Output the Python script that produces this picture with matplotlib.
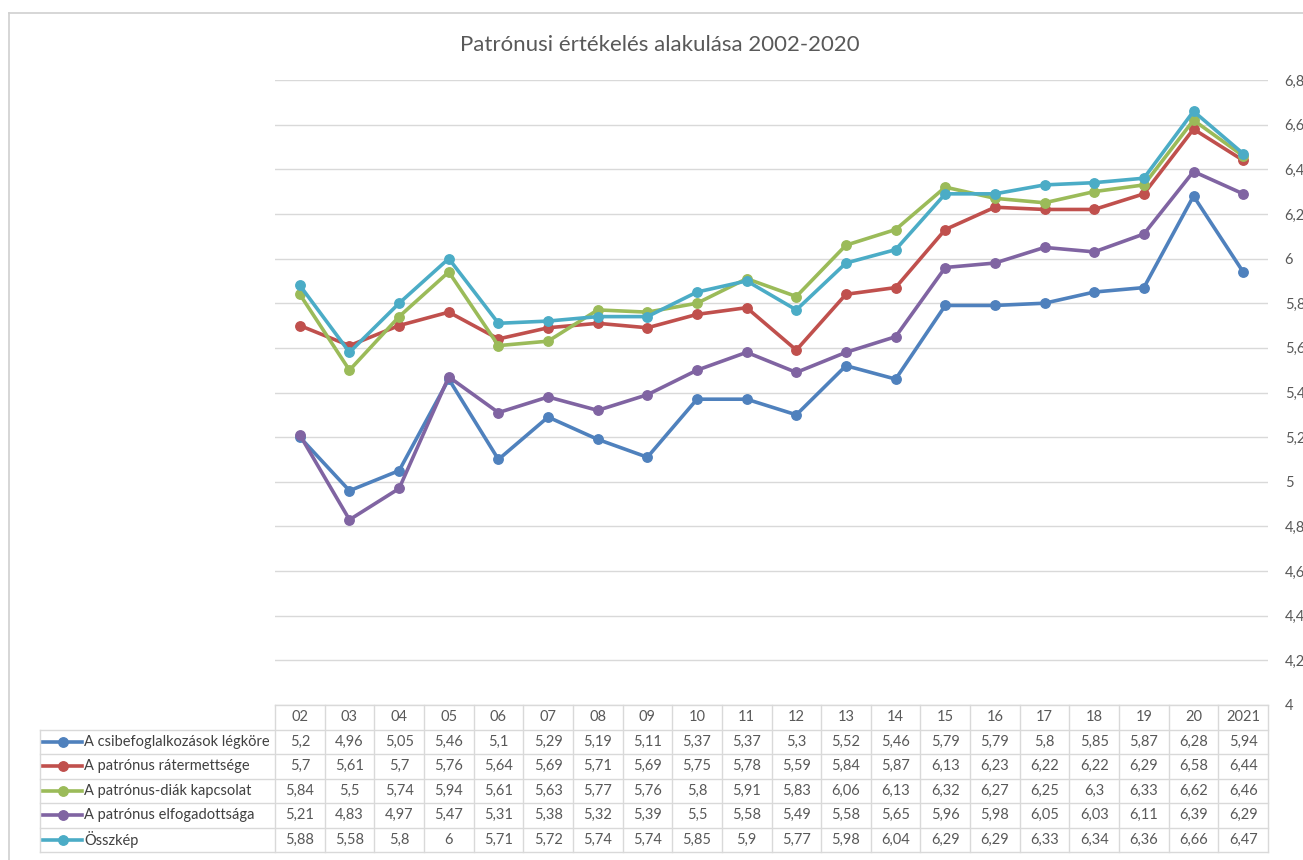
import numpy as np
import matplotlib.pyplot as plt
from matplotlib.lines import Line2D

plt.rcParams['font.family'] = ['Lato', 'DejaVu Sans']

# ---------------- data ----------------
YEARS = ["02", "03", "04", "05", "06", "07", "08", "09", "10", "11",
         "12", "13", "14", "15", "16", "17", "18", "19", "20", "2021"]
LABELS = ["A csibefoglalkozások légköre", "A patrónus rátermettsége",
          "A patrónus-diák kapcsolat", "A patrónus elfogadottsága", "Összkép"]
legkor = [5.2, 4.96, 5.05, 5.46, 5.1, 5.29, 5.19, 5.11, 5.37, 5.37,
          5.3, 5.52, 5.46, 5.79, 5.79, 5.8, 5.85, 5.87, 6.28, 5.94]
ratermett = [5.7, 5.61, 5.7, 5.76, 5.64, 5.69, 5.71, 5.69, 5.75, 5.78,
             5.59, 5.84, 5.87, 6.13, 6.23, 6.22, 6.22, 6.29, 6.58, 6.44]
kapcsolat = [5.84, 5.5, 5.74, 5.94, 5.61, 5.63, 5.77, 5.76, 5.8, 5.91,
             5.83, 6.06, 6.13, 6.32, 6.27, 6.25, 6.3, 6.33, 6.62, 6.46]
elfogadott = [5.21, 4.83, 4.97, 5.47, 5.31, 5.38, 5.32, 5.39, 5.5, 5.58,
              5.49, 5.58, 5.65, 5.96, 5.98, 6.05, 6.03, 6.11, 6.39, 6.29]
osszkep = [5.88, 5.58, 5.8, 6, 5.71, 5.72, 5.74, 5.74, 5.85, 5.9,
           5.77, 5.98, 6.04, 6.29, 6.29, 6.33, 6.34, 6.36, 6.66, 6.47]
SERIES = [legkor, ratermett, kapcsolat, elfogadott, osszkep]
COLORS = ["#4F81BD", "#C0504D", "#9BBB59", "#8064A2", "#4BACC6"]
YTICKS = np.arange(4.0, 6.81, 0.2)

# ---------------- layout (pixels of a 1303x860 canvas) ----------------
W, H = 1303, 860
PX_L, PX_R = 275, 1268      # plot / table columns
PX_TOP, PX_BOT = 80, 705    # 6.8 .. 4.0
ROW_H = 24.5
LAB_L = 40                  # left edge of the row-label column
GRID = "#D9D9D9"
TXT = "#595959"


def fx(px):
    return px / W


def fy(py):
    return 1 - py / H


fig = plt.figure(figsize=(W / 100, H / 100), dpi=100)

# chart frame (top and left edge visible)
fig.add_artist(Line2D([fx(9), fx(W + 5)], [fy(13), fy(13)], color="#D0D0D0", lw=1.2))
fig.add_artist(Line2D([fx(9), fx(9)], [fy(13), fy(H + 5)], color="#D0D0D0", lw=1.2))

ax = fig.add_axes([fx(PX_L), fy(PX_BOT), fx(PX_R - PX_L), (PX_BOT - PX_TOP) / H])
x = np.arange(len(YEARS))
for vals, col, lab in zip(SERIES, COLORS, LABELS):
    ax.plot(x, vals, '-o', color=col, lw=2.6, ms=6.8, label=lab,
            solid_joinstyle="round", zorder=3)

ax.set_xlim(-0.5, len(YEARS) - 0.5)
ax.set_ylim(4.0, 6.8)
ax.set_yticks(YTICKS)
ax.set_yticklabels([f"{v:.1f}".rstrip("0").rstrip(".").replace(".", ",") for v in YTICKS],
                   fontsize=10.5, color=TXT)
ax.yaxis.tick_right()
ax.tick_params(axis="y", length=0, pad=12)
ax.set_xticks([])
ax.grid(axis="y", color=GRID, lw=1.0)
ax.set_axisbelow(True)
for s in ax.spines.values():
    s.set_visible(False)

fig.text(fx(660), fy(45), "Patrónusi értékelés alakulása 2002-2020",
         ha="center", va="center", fontsize=16, color=TXT)

# ---------------- data table ----------------
n_rows = len(SERIES) + 1
tab = fig.add_axes([0, 0, 1, 1])
tab.set_xlim(0, W)
tab.set_ylim(H, 0)
tab.axis("off")
col_w = (PX_R - PX_L) / len(YEARS)
TL = "#D9D9D9"

# horizontal lines
for r in range(n_rows + 1):
    yy = PX_BOT + r * ROW_H
    x0 = PX_L if r == 0 else LAB_L
    tab.plot([x0, PX_R], [yy, yy], color=TL, lw=1.0)
# vertical lines
for c in range(len(YEARS) + 1):
    xx = PX_L + c * col_w
    tab.plot([xx, xx], [PX_BOT, PX_BOT + n_rows * ROW_H], color=TL, lw=1.0)
tab.plot([LAB_L, LAB_L], [PX_BOT + ROW_H, PX_BOT + n_rows * ROW_H], color=TL, lw=1.0)

for c, yr in enumerate(YEARS):
    tab.text(PX_L + (c + 0.5) * col_w, PX_BOT + 0.5 * ROW_H, yr,
             ha="center", va="center", fontsize=10.5, color=TXT)

for r, (vals, col, lab) in enumerate(zip(SERIES, COLORS, LABELS), start=1):
    yc = PX_BOT + (r + 0.5) * ROW_H
    tab.plot([43, 82], [yc, yc], color=col, lw=2.6)
    tab.plot([63], [yc], 'o', color=col, ms=6.8)
    tab.text(84, yc, lab, ha="left", va="center", fontsize=10.5, color="#404040")
    for c, v in enumerate(vals):
        tab.text(PX_L + (c + 0.5) * col_w, yc, f"{v:g}".replace(".", ","),
                 ha="center", va="center", fontsize=10.5, color=TXT)

fig.savefig("out.png", dpi=100)
